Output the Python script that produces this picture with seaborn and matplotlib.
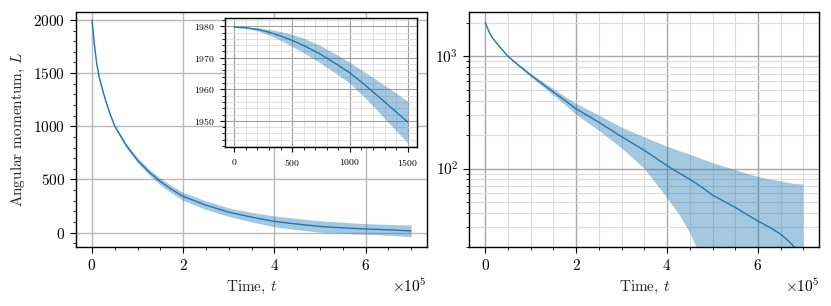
import numpy as np
import matplotlib
matplotlib.use("Agg")
import matplotlib.pyplot as plt
import seaborn as sns

# Mean angular momentum and spread (time in units of 1e5)
t_main = np.array([0, 0.02, 0.05, 0.1, 0.15, 0.2, 0.3, 0.4, 0.5, 0.75, 1.0, 1.25, 1.5, 1.75,
                   2.0, 2.5, 3.0, 3.5, 4.0, 4.25, 4.5, 4.75, 5.0, 5.25, 5.5, 5.75, 6.0,
                   6.25, 6.5, 6.7, 6.8, 7.0]) * 1e5
L_mean = np.array([2000, 1910, 1780, 1600, 1480, 1390, 1240, 1110, 1000, 820, 680, 570, 480, 405,
                   340, 258, 192, 145, 106, 92, 80, 69, 58, 51, 45, 39, 34,
                   30, 26, 22, 20, 16])
L_std = np.array([0, 1, 2, 4, 5, 7, 10, 12, 14, 19, 24, 28, 31, 34,
                  38, 40, 40, 45, 51, 52, 53, 53, 54, 53, 52, 51, 50,
                  50, 51, 52, 53, 56])

# Early-time zoom (inset)
t_inset = np.array([0, 100, 200, 300, 400, 500, 600, 750, 900, 1000, 1125, 1250, 1375, 1500])
L_inset = np.array([1979.7, 1979.5, 1979.0, 1978.1, 1976.9, 1975.5, 1973.9, 1971.0,
                    1967.6, 1965.2, 1961.5, 1957.6, 1953.6, 1949.6])
L_inset_std = np.array([0, 0.2, 0.5, 0.9, 1.4, 1.9, 2.3, 2.8, 3.1, 3.3, 4.0, 4.9, 5.8, 6.6])

sns.set_style("ticks")
plt.rcParams.update({
    "font.family": "serif",
    "font.serif": ["cmr10"],
    "mathtext.fontset": "cm",
    "axes.formatter.use_mathtext": True,
    "axes.unicode_minus": False,
    "font.size": 11,
    "axes.linewidth": 1.0,
    "axes.edgecolor": "black",
    "xtick.direction": "out",
    "ytick.direction": "out",
    "xtick.minor.visible": True,
    "ytick.minor.visible": True,
    "xtick.major.size": 4.5,
    "ytick.major.size": 4.5,
    "xtick.minor.size": 2.5,
    "ytick.minor.size": 2.5,
    "xtick.color": "black",
    "ytick.color": "black",
})

blue = "#1f77b4"
fig = plt.figure(figsize=(8.31, 3.06), dpi=100)

# Left: linear scale
ax1 = fig.add_axes([0.0915, 0.193, 0.4224, 0.769])
ax1.fill_between(t_main, L_mean - L_std, L_mean + L_std, color=blue, alpha=0.4, lw=0)
sns.lineplot(x=t_main, y=L_mean, ax=ax1, color=blue, lw=1.0)
ax1.set_xlim(-0.35e5, 7.35e5)
ax1.set_ylim(-135, 2078)
ax1.ticklabel_format(axis="x", style="sci", scilimits=(0, 0))
ax1.grid(True, which="major", color="#b8b8b8", lw=1.0)
ax1.set_axisbelow(True)
ax1.set_xlabel("Time, $t$")
ax1.set_ylabel("Angular momentum, $L$")

# Inset
axin = fig.add_axes([0.2708, 0.5196, 0.231, 0.4216])
axin.fill_between(t_inset, L_inset - L_inset_std, L_inset + L_inset_std, color=blue, alpha=0.4, lw=0)
sns.lineplot(x=t_inset, y=L_inset, ax=axin, color=blue, lw=1.0)
axin.set_xlim(-80, 1580)
axin.set_ylim(1941.7, 1982.6)
axin.set_xticks([0, 500, 1000, 1500])
axin.set_yticks([1950, 1960, 1970, 1980])
axin.tick_params(labelsize=7, which="major", length=3.5)
axin.tick_params(which="minor", length=2)
axin.grid(True, which="major", color="#a0a0a0", lw=0.8)
axin.grid(True, which="minor", color="#dcdcdc", lw=0.6)
axin.set_axisbelow(True)
axin.set_xlabel("")
axin.set_ylabel("")

# Right: log scale
ax2 = fig.add_axes([0.5648, 0.193, 0.4212, 0.769])
ax2.set_yscale("log")
ax2.fill_between(t_main, L_mean - L_std, L_mean + L_std, color=blue, alpha=0.4, lw=0)
sns.lineplot(x=t_main, y=L_mean, ax=ax2, color=blue, lw=1.0)
ax2.set_xlim(-0.35e5, 7.35e5)
ax2.set_ylim(20, 2500)
ax2.ticklabel_format(axis="x", style="sci", scilimits=(0, 0))
ax2.grid(True, which="major", color="#a8a8a8", lw=1.0)
ax2.grid(True, which="minor", color="#dcdcdc", lw=0.8)
ax2.set_axisbelow(True)
ax2.set_xlabel("Time, $t$")
ax2.set_ylabel("")

fig.savefig("out.png", dpi=100)
